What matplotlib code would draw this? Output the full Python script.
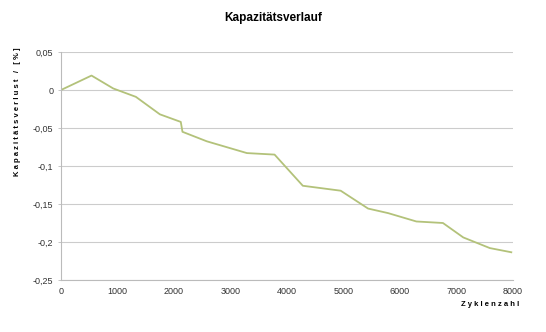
import matplotlib.pyplot as plt
from matplotlib.ticker import FuncFormatter

plt.rcParams['font.family'] = ['Liberation Sans', 'DejaVu Sans']

zyklen = [0, 540, 925, 1325, 1750, 2120, 2150, 2580, 3290, 3780, 4280,
          4950, 5435, 5790, 6290, 6760, 7120, 7590, 7970]
verlust = [0.0, 0.019, 0.002, -0.009, -0.032, -0.042, -0.055, -0.0675, -0.083,
           -0.085, -0.126, -0.1325, -0.156, -0.162, -0.173, -0.175, -0.194,
           -0.208, -0.2135]

y_ticks = [0.05, 0, -0.05, -0.1, -0.15, -0.2, -0.25]
x_ticks = [0, 1000, 2000, 3000, 4000, 5000, 6000, 7000, 8000]

fig = plt.figure(figsize=(5.46, 3.32), dpi=100)
ax = fig.add_axes([61 / 546, 1 - 280 / 332, (513 - 61) / 546, (280 - 52) / 332])

ax.plot(zyklen, verlust, color='#b3c27a', lw=1.3)

ax.set_xlim(0, 8000)
ax.set_ylim(-0.25, 0.05)
ax.set_xticks(x_ticks)
ax.set_yticks(y_ticks)


def komma(v, pos):
    s = ('%g' % round(v, 3)).replace('.', ',')
    return s


ax.yaxis.set_major_formatter(FuncFormatter(komma))
ax.tick_params(labelsize=6.5, colors='#333333', length=2, width=0.6)
ax.tick_params(axis='x', length=0, pad=5)
ax.tick_params(axis='y', color='#bbbbbb')
ax.grid(axis='y', color='#cccccc', lw=0.8)
ax.set_axisbelow(True)
for s in ['top', 'right']:
    ax.spines[s].set_visible(False)
for s in ['left', 'bottom']:
    ax.spines[s].set_color('#bbbbbb')
    ax.spines[s].set_linewidth(0.8)

fig.text(0.5, 1 - 18 / 332, 'Kapazitätsverlauf', ha='center', va='center',
         fontsize=8.5, fontweight='bold')
fig.text(18 / 546, 1 - 112 / 332, ' '.join('Kapazitätsverlust / [%]'),
         rotation=90, ha='center', va='center', fontsize=5.5, fontweight='bold')
fig.text(490 / 546, 1 - 305 / 332, ' '.join('Zyklenzahl'), ha='center',
         va='center', fontsize=5.5, fontweight='bold')

fig.savefig('out.png', dpi=100, facecolor='white')
